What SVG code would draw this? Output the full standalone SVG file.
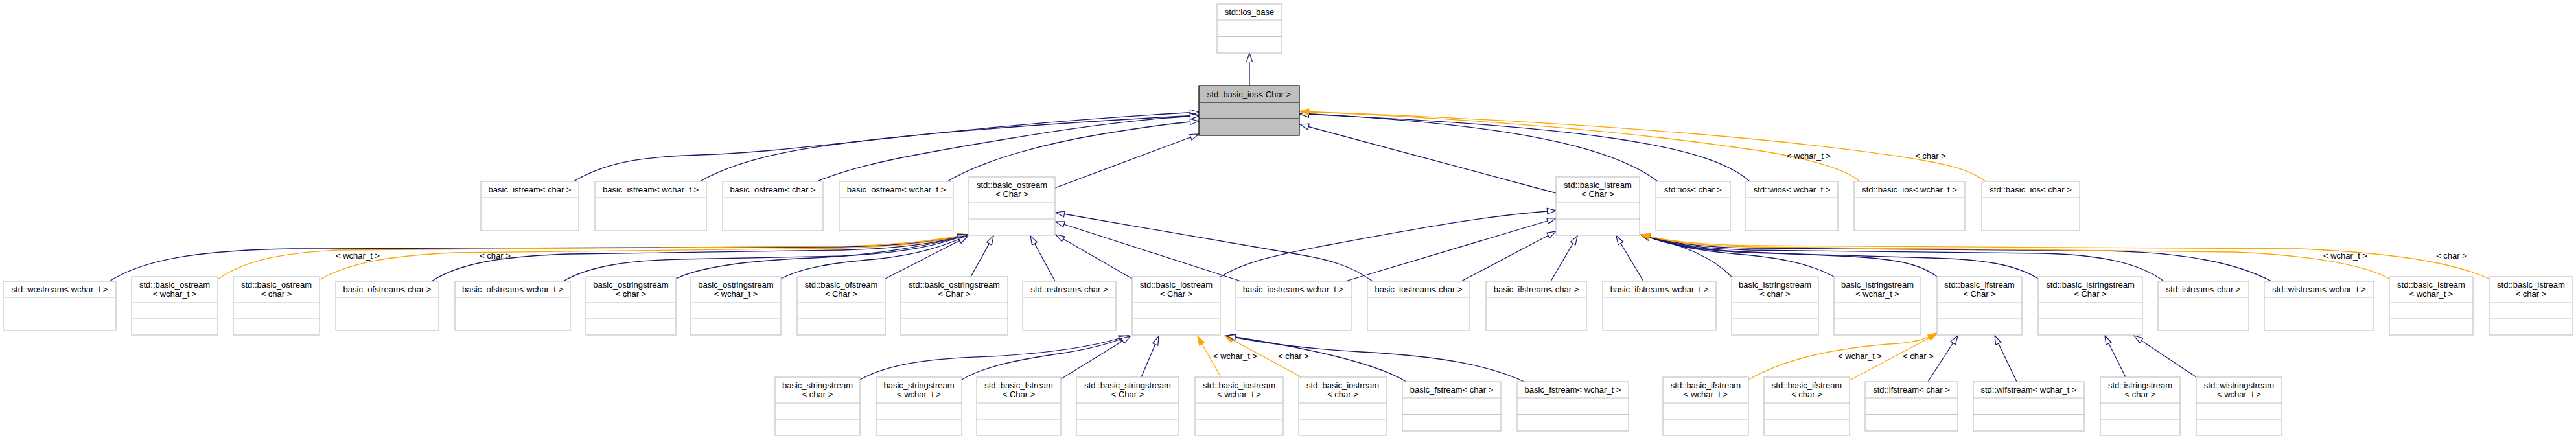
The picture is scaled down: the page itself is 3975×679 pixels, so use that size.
<svg xmlns="http://www.w3.org/2000/svg" width="3975" height="679" viewBox="0 0 3975 679">
<style>
.n rect{fill:#fff;stroke:#c4c4c4;stroke-width:1.2}
.n path{stroke:#c4c4c4;stroke-width:1.2;fill:none}
.g rect{fill:#bfbfbf;stroke:#000;stroke-width:1.2}
.g path{stroke:#000;stroke-width:1.2;fill:none}
text{font-family:"Liberation Sans",Arial,Helvetica,sans-serif;font-size:13px;text-anchor:middle;fill:#000}
.e path.i{fill:none;stroke:#191970;stroke-width:1.3;marker-end:url(#mi)}
.e path.t{fill:none;stroke:#ffa500;stroke-width:1.3;marker-end:url(#mt)}
</style>
<defs>
<marker id="mi" markerUnits="userSpaceOnUse" markerWidth="18" markerHeight="14" refX="14" refY="5" orient="auto" overflow="visible"><path d="M0.5,0.5 L14,5 L0.5,9.5 z" fill="#fff" stroke="#191970" stroke-width="1.2"/></marker>
<marker id="mt" markerUnits="userSpaceOnUse" markerWidth="18" markerHeight="14" refX="14" refY="5" orient="auto" overflow="visible"><path d="M0.5,0.5 L14,5 L0.5,9.5 z" fill="#ffa500" stroke="#ffa500" stroke-width="1.2"/></marker>
</defs>
<rect width="3975" height="679" fill="#fff"/>
<g class="e" id="connectors">
<path class="i" d="M1928,132 L1928,82"/>
<path class="i" d="M885,280 C935,250 990,242 1080,239 C1250,234 1450,195 1850,173"/>
<path class="i" d="M1080,280 C1150,240 1250,225 1400,210 C1550,195 1750,183 1850,178"/>
<path class="i" d="M1261,280 C1320,255 1400,240 1550,215 C1680,193 1780,182 1850,179"/>
<path class="i" d="M1462,280 C1520,245 1620,220 1700,207 C1760,197 1810,190 1850,187"/>
<path class="i" d="M1628,290 L1850,207"/>
<path class="i" d="M2401,298 L2006,192"/>
<path class="i" d="M2558,280 C2480,220 2300,190 2006,175"/>
<path class="i" d="M2700,280 C2640,225 2450,195 2006,176"/>
<path class="t" d="M2870,280 C2840,255 2760,238 2683,228 C2500,202 2300,185 2006,172"/>
<path class="t" d="M3064,280 C3040,262 3010,255 2960,246 C2800,220 2500,190 2006,172"/>
<path class="i" d="M169,434 C230,395 330,386 450,384 L1300,381 C1400,379 1450,372 1492,362"/>
<path class="t" d="M336,431 C380,400 440,390 520,386 L1300,380 C1400,377 1450,370 1492,362"/>
<path class="t" d="M494,431 C540,405 600,395 700,390 L1300,383 C1400,380 1450,372 1492,362"/>
<path class="i" d="M666,434 C710,405 780,395 880,392 L1300,386 C1400,383 1450,374 1492,362"/>
<path class="i" d="M869,434 C910,410 970,402 1050,400 L1300,395 C1400,390 1450,378 1492,362"/>
<path class="i" d="M1043,430 C1080,412 1150,402 1255,398 C1350,394 1440,378 1492,363"/>
<path class="i" d="M1205,430 C1240,412 1290,405 1350,400 C1420,393 1460,378 1492,364"/>
<path class="i" d="M1366,430 L1493,365"/>
<path class="i" d="M1498,427 L1533,364"/>
<path class="i" d="M1628,434 L1590,364"/>
<path class="i" d="M1747,430 L1629,362"/>
<path class="i" d="M1915,434 L1629,342"/>
<path class="i" d="M2118,434 C2085,410 2050,400 2000,392 L1629,328"/>
<path class="i" d="M1883,427 C1920,405 1960,395 2050,378 C2200,350 2300,332 2401,325"/>
<path class="i" d="M2076,434 L2401,337"/>
<path class="i" d="M2255,434 L2401,357"/>
<path class="i" d="M2393,434 L2434,364"/>
<path class="i" d="M2536,434 L2494,364"/>
<path class="i" d="M2672,427 C2640,395 2600,380 2532,362"/>
<path class="i" d="M2830,427 C2790,405 2740,397 2680,392 C2610,386 2570,376 2532,362"/>
<path class="i" d="M2989,427 C2960,405 2920,400 2860,396 L2680,388 C2610,384 2570,374 2532,362"/>
<path class="i" d="M3145,430 C3110,408 3060,400 2980,398 L2700,390 C2610,386 2570,376 2532,362"/>
<path class="i" d="M3339,434 C3300,405 3240,393 3150,391 L2700,386 C2610,383 2570,374 2532,362"/>
<path class="i" d="M3505,434 C3450,405 3370,390 3250,387 L2700,383 C2610,381 2570,373 2532,362"/>
<path class="t" d="M3687,430 C3650,410 3580,395 3450,389 L2700,381 C2610,379 2570,372 2532,362"/>
<path class="t" d="M3841,430 C3800,412 3730,392 3550,384 L2700,379 C2610,377 2570,371 2532,362"/>
<path class="i" d="M1327,586 C1370,562 1430,553 1530,550 C1620,545 1690,535 1740,518"/>
<path class="i" d="M1484,586 C1520,565 1570,555 1640,545 C1690,537 1720,528 1742,518"/>
<path class="i" d="M1637,585 L1744,519"/>
<path class="i" d="M1761,582 L1788,519"/>
<path class="t" d="M1884,582 L1848,519"/>
<path class="t" d="M2008,582 L1890,518"/>
<path class="i" d="M2170,589 C2130,565 2040,540 1893,518"/>
<path class="i" d="M2352,589 C2300,565 2230,550 2100,543 C2000,537 1940,528 1893,518"/>
<path class="t" d="M2698,586 C2760,550 2850,535 2930,530 C2960,527 2975,522 2989,514"/>
<path class="t" d="M2854,587 L2989,515"/>
<path class="i" d="M2975,589 L3021,518"/>
<path class="i" d="M3112,589 L3078,518"/>
<path class="i" d="M3280,582 L3248,518"/>
<path class="i" d="M3389,582 L3293,518"/>
<text x="2791" y="244.5">&lt; wchar_t &gt;</text>
<text x="2979" y="244.5">&lt; char &gt;</text>
<text x="552" y="398.5">&lt; wchar_t &gt;</text>
<text x="764" y="398.5">&lt; char &gt;</text>
<text x="3619" y="398.5">&lt; wchar_t &gt;</text>
<text x="3783" y="398.5">&lt; char &gt;</text>
<text x="1906" y="553.5">&lt; wchar_t &gt;</text>
<text x="1996" y="553.5">&lt; char &gt;</text>
<text x="2870" y="553.5">&lt; wchar_t &gt;</text>
<text x="2960" y="553.5">&lt; char &gt;</text>
</g>
<g class="n" id="n_ios_base"><rect x="1878" y="6" width="100" height="76"/><path d="M1878,31H1978M1878,56.5H1978"/><text x="1928" y="23">std::ios_base</text></g>
<g class="g" id="n_basic_ios_Char"><rect x="1850" y="132" width="155" height="77"/><path d="M1850,158H2005M1850,183H2005"/><text x="1927.5" y="149.5">std::basic_ios&lt; Char &gt;</text></g>

<g class="n" id="n_basic_istream_char"><rect x="742" y="280" width="151" height="76"/><path d="M742,305h151M742,330.5h151"/><text x="817.5" y="297">basic_istream&lt; char &gt;</text></g>
<g class="n" id="n_basic_istream_wchar"><rect x="918" y="280" width="172" height="76"/><path d="M918,305h172M918,330.5h172"/><text x="1004" y="297">basic_istream&lt; wchar_t &gt;</text></g>
<g class="n" id="n_basic_ostream_char"><rect x="1115" y="280" width="155" height="76"/><path d="M1115,305h155M1115,330.5h155"/><text x="1192.5" y="297">basic_ostream&lt; char &gt;</text></g>
<g class="n" id="n_basic_ostream_wchar"><rect x="1295" y="280" width="176" height="76"/><path d="M1295,305h176M1295,330.5h176"/><text x="1383" y="297">basic_ostream&lt; wchar_t &gt;</text></g>
<g class="n" id="n_std_basic_ostream_Char"><rect x="1495" y="273" width="133" height="90"/><path d="M1495,313h133M1495,338h133"/><text x="1561.5" y="290">std::basic_ostream</text><text x="1561.5" y="304">&lt; Char &gt;</text></g>
<g class="n" id="n_std_basic_istream_Char"><rect x="2401" y="273" width="129" height="90"/><path d="M2401,313h129M2401,338h129"/><text x="2465.5" y="290">std::basic_istream</text><text x="2465.5" y="304">&lt; Char &gt;</text></g>
<g class="n" id="n_std_ios_char"><rect x="2555" y="280" width="115" height="76"/><path d="M2555,305h115M2555,330.5h115"/><text x="2612.5" y="297">std::ios&lt; char &gt;</text></g>
<g class="n" id="n_std_wios"><rect x="2694" y="280" width="142" height="76"/><path d="M2694,305h142M2694,330.5h142"/><text x="2765" y="297">std::wios&lt; wchar_t &gt;</text></g>
<g class="n" id="n_std_basic_ios_wchar"><rect x="2861" y="280" width="171" height="76"/><path d="M2861,305h171M2861,330.5h171"/><text x="2946.5" y="297">std::basic_ios&lt; wchar_t &gt;</text></g>
<g class="n" id="n_std_basic_ios_char"><rect x="3058" y="280" width="151" height="76"/><path d="M3058,305h151M3058,330.5h151"/><text x="3133.5" y="297">std::basic_ios&lt; char &gt;</text></g>

<g class="n" id="n_std_wostream"><rect x="5" y="434" width="174" height="76"/><path d="M5,459h174M5,484.5h174"/><text x="92" y="451">std::wostream&lt; wchar_t &gt;</text></g>
<g class="n" id="n_std_basic_ostream_wchar"><rect x="203" y="427" width="133" height="90"/><path d="M203,467h133M203,492h133"/><text x="269.5" y="444">std::basic_ostream</text><text x="269.5" y="458">&lt; wchar_t &gt;</text></g>
<g class="n" id="n_std_basic_ostream_char"><rect x="360" y="427" width="133" height="90"/><path d="M360,467h133M360,492h133"/><text x="426.5" y="444">std::basic_ostream</text><text x="426.5" y="458">&lt; char &gt;</text></g>
<g class="n" id="n_basic_ofstream_char"><rect x="518" y="434" width="159" height="76"/><path d="M518,459h159M518,484.5h159"/><text x="597.5" y="451">basic_ofstream&lt; char &gt;</text></g>
<g class="n" id="n_basic_ofstream_wchar"><rect x="702" y="434" width="178" height="76"/><path d="M702,459h178M702,484.5h178"/><text x="791" y="451">basic_ofstream&lt; wchar_t &gt;</text></g>
<g class="n" id="n_basic_ostringstream_char"><rect x="904" y="427" width="139" height="90"/><path d="M904,467h139M904,492h139"/><text x="973.5" y="444">basic_ostringstream</text><text x="973.5" y="458">&lt; char &gt;</text></g>
<g class="n" id="n_basic_ostringstream_wchar"><rect x="1066" y="427" width="139" height="90"/><path d="M1066,467h139M1066,492h139"/><text x="1135.5" y="444">basic_ostringstream</text><text x="1135.5" y="458">&lt; wchar_t &gt;</text></g>
<g class="n" id="n_std_basic_ofstream_Char"><rect x="1230" y="427" width="136" height="90"/><path d="M1230,467h136M1230,492h136"/><text x="1298" y="444">std::basic_ofstream</text><text x="1298" y="458">&lt; Char &gt;</text></g>
<g class="n" id="n_std_basic_ostringstream_Char"><rect x="1390" y="427" width="165" height="90"/><path d="M1390,467h165M1390,492h165"/><text x="1472.5" y="444">std::basic_ostringstream</text><text x="1472.5" y="458">&lt; Char &gt;</text></g>
<g class="n" id="n_std_ostream_char"><rect x="1578" y="434" width="144" height="76"/><path d="M1578,459h144M1578,484.5h144"/><text x="1650" y="451">std::ostream&lt; char &gt;</text></g>
<g class="n" id="n_std_basic_iostream_Char"><rect x="1747" y="427" width="136" height="90"/><path d="M1747,467h136M1747,492h136"/><text x="1815" y="444">std::basic_iostream</text><text x="1815" y="458">&lt; Char &gt;</text></g>
<g class="n" id="n_basic_iostream_wchar"><rect x="1906" y="434" width="179" height="76"/><path d="M1906,459h179M1906,484.5h179"/><text x="1995.5" y="451">basic_iostream&lt; wchar_t &gt;</text></g>
<g class="n" id="n_basic_iostream_char"><rect x="2110" y="434" width="158" height="76"/><path d="M2110,459h158M2110,484.5h158"/><text x="2189" y="451">basic_iostream&lt; char &gt;</text></g>
<g class="n" id="n_basic_ifstream_char"><rect x="2293" y="434" width="155" height="76"/><path d="M2293,459h155M2293,484.5h155"/><text x="2370.5" y="451">basic_ifstream&lt; char &gt;</text></g>
<g class="n" id="n_basic_ifstream_wchar"><rect x="2473" y="434" width="175" height="76"/><path d="M2473,459h175M2473,484.5h175"/><text x="2560.5" y="451">basic_ifstream&lt; wchar_t &gt;</text></g>
<g class="n" id="n_basic_istringstream_char"><rect x="2672" y="427" width="134" height="90"/><path d="M2672,467h134M2672,492h134"/><text x="2739" y="444">basic_istringstream</text><text x="2739" y="458">&lt; char &gt;</text></g>
<g class="n" id="n_basic_istringstream_wchar"><rect x="2830" y="427" width="134" height="90"/><path d="M2830,467h134M2830,492h134"/><text x="2897" y="444">basic_istringstream</text><text x="2897" y="458">&lt; wchar_t &gt;</text></g>
<g class="n" id="n_std_basic_ifstream_Char"><rect x="2989" y="427" width="131" height="90"/><path d="M2989,467h131M2989,492h131"/><text x="3054.5" y="444">std::basic_ifstream</text><text x="3054.5" y="458">&lt; Char &gt;</text></g>
<g class="n" id="n_std_basic_istringstream_Char"><rect x="3145" y="427" width="161" height="90"/><path d="M3145,467h161M3145,492h161"/><text x="3225.5" y="444">std::basic_istringstream</text><text x="3225.5" y="458">&lt; Char &gt;</text></g>
<g class="n" id="n_std_istream_char"><rect x="3330" y="434" width="140" height="76"/><path d="M3330,459h140M3330,484.5h140"/><text x="3400" y="451">std::istream&lt; char &gt;</text></g>
<g class="n" id="n_std_wistream"><rect x="3494" y="434" width="169" height="76"/><path d="M3494,459h169M3494,484.5h169"/><text x="3578.5" y="451">std::wistream&lt; wchar_t &gt;</text></g>
<g class="n" id="n_std_basic_istream_wchar"><rect x="3687" y="427" width="129" height="90"/><path d="M3687,467h129M3687,492h129"/><text x="3751.5" y="444">std::basic_istream</text><text x="3751.5" y="458">&lt; wchar_t &gt;</text></g>
<g class="n" id="n_std_basic_istream_char"><rect x="3841" y="427" width="129" height="90"/><path d="M3841,467h129M3841,492h129"/><text x="3905.5" y="444">std::basic_istream</text><text x="3905.5" y="458">&lt; char &gt;</text></g>

<g class="n" id="n_basic_stringstream_char"><rect x="1196" y="582" width="131" height="90"/><path d="M1196,622h131M1196,647h131"/><text x="1261.5" y="599">basic_stringstream</text><text x="1261.5" y="613">&lt; char &gt;</text></g>
<g class="n" id="n_basic_stringstream_wchar"><rect x="1352" y="582" width="132" height="90"/><path d="M1352,622h132M1352,647h132"/><text x="1418" y="599">basic_stringstream</text><text x="1418" y="613">&lt; wchar_t &gt;</text></g>
<g class="n" id="n_std_basic_fstream_Char"><rect x="1507" y="582" width="130" height="90"/><path d="M1507,622h130M1507,647h130"/><text x="1572" y="599">std::basic_fstream</text><text x="1572" y="613">&lt; Char &gt;</text></g>
<g class="n" id="n_std_basic_stringstream_Char"><rect x="1661" y="582" width="158" height="90"/><path d="M1661,622h158M1661,647h158"/><text x="1740" y="599">std::basic_stringstream</text><text x="1740" y="613">&lt; Char &gt;</text></g>
<g class="n" id="n_std_basic_iostream_wchar"><rect x="1844" y="582" width="136" height="90"/><path d="M1844,622h136M1844,647h136"/><text x="1912" y="599">std::basic_iostream</text><text x="1912" y="613">&lt; wchar_t &gt;</text></g>
<g class="n" id="n_std_basic_iostream_char"><rect x="2004" y="582" width="136" height="90"/><path d="M2004,622h136M2004,647h136"/><text x="2072" y="599">std::basic_iostream</text><text x="2072" y="613">&lt; char &gt;</text></g>
<g class="n" id="n_basic_fstream_char"><rect x="2164" y="589" width="152" height="76"/><path d="M2164,614h152M2164,639.5h152"/><text x="2240" y="606">basic_fstream&lt; char &gt;</text></g>
<g class="n" id="n_basic_fstream_wchar"><rect x="2341" y="589" width="172" height="76"/><path d="M2341,614h172M2341,639.5h172"/><text x="2427" y="606">basic_fstream&lt; wchar_t &gt;</text></g>
<g class="n" id="n_std_basic_ifstream_wchar"><rect x="2566" y="582" width="132" height="90"/><path d="M2566,622h132M2566,647h132"/><text x="2632" y="599">std::basic_ifstream</text><text x="2632" y="613">&lt; wchar_t &gt;</text></g>
<g class="n" id="n_std_basic_ifstream_char"><rect x="2722" y="582" width="132" height="90"/><path d="M2722,622h132M2722,647h132"/><text x="2788" y="599">std::basic_ifstream</text><text x="2788" y="613">&lt; char &gt;</text></g>
<g class="n" id="n_std_ifstream_char"><rect x="2878" y="589" width="143" height="76"/><path d="M2878,614h143M2878,639.5h143"/><text x="2949.5" y="606">std::ifstream&lt; char &gt;</text></g>
<g class="n" id="n_std_wifstream"><rect x="3045" y="589" width="171" height="76"/><path d="M3045,614h171M3045,639.5h171"/><text x="3130.5" y="606">std::wifstream&lt; wchar_t &gt;</text></g>
<g class="n" id="n_std_istringstream_char"><rect x="3241" y="582" width="123" height="90"/><path d="M3241,622h123M3241,647h123"/><text x="3302.5" y="599">std::istringstream</text><text x="3302.5" y="613">&lt; char &gt;</text></g>
<g class="n" id="n_std_wistringstream"><rect x="3389" y="582" width="132" height="90"/><path d="M3389,622h132M3389,647h132"/><text x="3455" y="599">std::wistringstream</text><text x="3455" y="613">&lt; wchar_t &gt;</text></g>
</svg>
